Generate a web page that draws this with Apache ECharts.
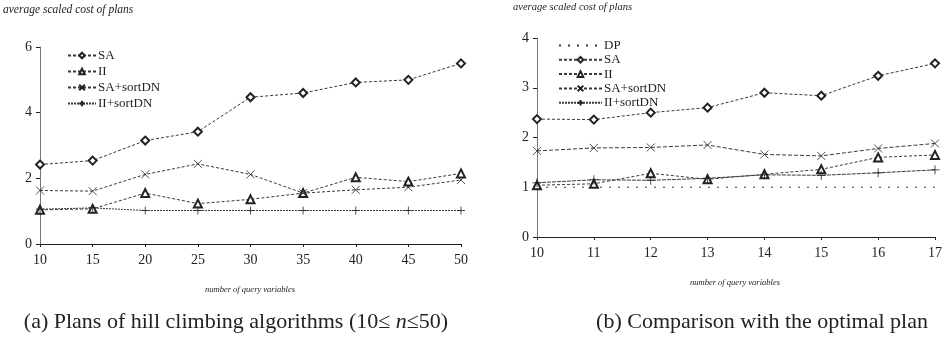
<!DOCTYPE html>
<html>
<head>
<meta charset="utf-8">
<script src="https://cdn.jsdelivr.net/npm/echarts@6/dist/echarts.min.js"></script>
<style>html,body{margin:0;padding:0;background:#fff}#c{width:947px;height:343px}</style>
</head>
<body>
<div id="c"></div>
<script>
// ---- data: chart (a) ----
const xA = [10, 15, 20, 25, 30, 35, 40, 45, 50];
const saA = [2.42, 2.54, 3.15, 3.42, 4.47, 4.6, 4.92, 5.0, 5.5];
const iiA = [1.04, 1.07, 1.55, 1.23, 1.36, 1.55, 2.03, 1.9, 2.15];
const saSortA = [1.63, 1.61, 2.12, 2.44, 2.12, 1.55, 1.65, 1.73, 1.95];
const iiSortA = [1.06, 1.1, 1.02, 1.02, 1.02, 1.02, 1.02, 1.02, 1.02];
const yTicksA = [0, 2, 4, 6];

// ---- data: chart (b) ----
const xB = [10, 11, 12, 13, 14, 15, 16, 17];
const dpB = [1, 1, 1, 1, 1, 1, 1, 1];
const saB = [2.37, 2.36, 2.5, 2.6, 2.9, 2.84, 3.24, 3.49];
const iiB = [1.04, 1.07, 1.28, 1.16, 1.26, 1.36, 1.6, 1.65];
const saSortB = [1.73, 1.79, 1.8, 1.85, 1.66, 1.63, 1.78, 1.88];
const iiSortB = [1.09, 1.15, 1.14, 1.18, 1.25, 1.24, 1.29, 1.35];
const yTicksB = [0, 1, 2, 3, 4];

const serif = '"Liberation Serif", "DejaVu Serif", serif';
const ink = '#222';
const lineCol = '#3a3a3a';
const xSym = 'path://M0,0L10,10M10,0L0,10';
const plusSym = 'path://M5,0L5,10M0,5L10,5';

function mk(name, xs, ys, g, sym, size, dash) {
  return {
    name: name, type: 'line', xAxisIndex: g, yAxisIndex: g,
    data: xs.map((x, i) => [x, ys[i]]),
    symbol: sym, symbolSize: size, showSymbol: sym !== 'none',
    lineStyle: { color: lineCol, width: 1, type: dash },
    itemStyle: { color: ink, borderColor: ink, borderWidth: 0.8 },
    emphasis: { disabled: true }, animation: false
  };
}

const chart = echarts.init(document.getElementById('c'));
const axisLbl = { fontFamily: serif, fontSize: 14, color: ink };
const legendText = { fontFamily: serif, fontSize: 13, color: ink, padding: [0, 0, 0, -3] };
chart.setOption({
  backgroundColor: '#fff',
  animation: false,
  grid: [
    { left: 40, top: 47, width: 421, height: 197 },
    { left: 537, top: 38, width: 398, height: 199 }
  ],
  xAxis: [
    { type: 'value', gridIndex: 0, min: 10, max: 50, interval: 5,
      axisLine: { lineStyle: { color: ink, width: 1 } },
      axisTick: { inside: false, length: 3, lineStyle: { color: ink } },
      axisLabel: Object.assign({ margin: 9 }, axisLbl), splitLine: { show: false } },
    { type: 'value', gridIndex: 1, min: 10, max: 17, interval: 1,
      axisLine: { lineStyle: { color: ink, width: 1 } },
      axisTick: { inside: false, length: 3, lineStyle: { color: ink } },
      axisLabel: Object.assign({ margin: 9 }, axisLbl), splitLine: { show: false } }
  ],
  yAxis: [
    { type: 'value', gridIndex: 0, min: 0, max: 6, interval: 2,
      axisLine: { show: true, lineStyle: { color: '#777', width: 1 } },
      axisTick: { show: true, length: 4, lineStyle: { color: ink } },
      axisLabel: Object.assign({ margin: 8, formatter: v => yTicksA.includes(v) ? String(v) : '' }, axisLbl),
      splitLine: { show: false } },
    { type: 'value', gridIndex: 1, min: 0, max: 4, interval: 1,
      axisLine: { show: true, lineStyle: { color: '#777', width: 1 } },
      axisTick: { show: true, length: 4, lineStyle: { color: ink } },
      axisLabel: Object.assign({ margin: 8, formatter: v => yTicksB.includes(v) ? String(v) : '' }, axisLbl),
      splitLine: { show: false } }
  ],
  legend: [
    { orient: 'vertical', left: 62, top: 44, itemWidth: 28, itemHeight: 7, itemGap: 3,
      data: ['SA', 'II', 'SA+sortDN', 'II+sortDN'],
      textStyle: legendText, selectedMode: false },
    { orient: 'vertical', left: 553, top: 34, itemWidth: 43, itemHeight: 7, itemGap: 1.3,
      data: [{ name: 'DP', itemStyle: { opacity: 0 } }, 'SA', 'II', 'SA+sortDN', 'II+sortDN'],
      textStyle: legendText, selectedMode: false }
  ],
  graphic: [
    { type: 'text', left: 3, top: 4, style: { text: 'average scaled cost of plans', font: 'italic 11.5px ' + serif, fill: ink } },
    { type: 'text', left: 513, top: 2, style: { text: 'average scaled cost of plans', font: 'italic 10.5px ' + serif, fill: ink } },
    { type: 'text', x: 250, y: 290, style: { text: 'number of query variables', font: 'italic 8.5px ' + serif, fill: ink, align: 'center', verticalAlign: 'middle' } },
    { type: 'text', x: 735, y: 283, style: { text: 'number of query variables', font: 'italic 8.5px ' + serif, fill: ink, align: 'center', verticalAlign: 'middle' } },
    { type: 'text', x: 236, y: 322, style: { text: '(a) Plans of hill climbing algorithms (10≤ {i|n}≤50)', font: '22px ' + serif, fill: ink, align: 'center', verticalAlign: 'middle',
      rich: { i: { fontFamily: serif, fontSize: 22, fontStyle: 'italic', fill: ink } } } },
    { type: 'text', x: 762, y: 322, style: { text: '(b) Comparison with the optimal plan', font: '22px ' + serif, fill: ink, align: 'center', verticalAlign: 'middle' } }
  ],
  series: [
    mk('SA', xA, saA, 0, 'emptyDiamond', 8, [3, 2]),
    mk('II', xA, iiA, 0, 'emptyTriangle', 8, [3, 2]),
    mk('SA+sortDN', xA, saSortA, 0, xSym, 8, [3, 2]),
    mk('II+sortDN', xA, iiSortA, 0, plusSym, 8, [2, 1]),
    mk('DP', xB, dpB, 1, 'none', 4, [2, 7]),
    mk('SA', xB, saB, 1, 'emptyDiamond', 8, [3, 2]),
    mk('II', xB, iiB, 1, 'emptyTriangle', 8, [3, 2]),
    mk('SA+sortDN', xB, saSortB, 1, xSym, 8, [4, 2]),
    mk('II+sortDN', xB, iiSortB, 1, plusSym, 9, [4, 1])
  ]
});
</script>
</body>
</html>
